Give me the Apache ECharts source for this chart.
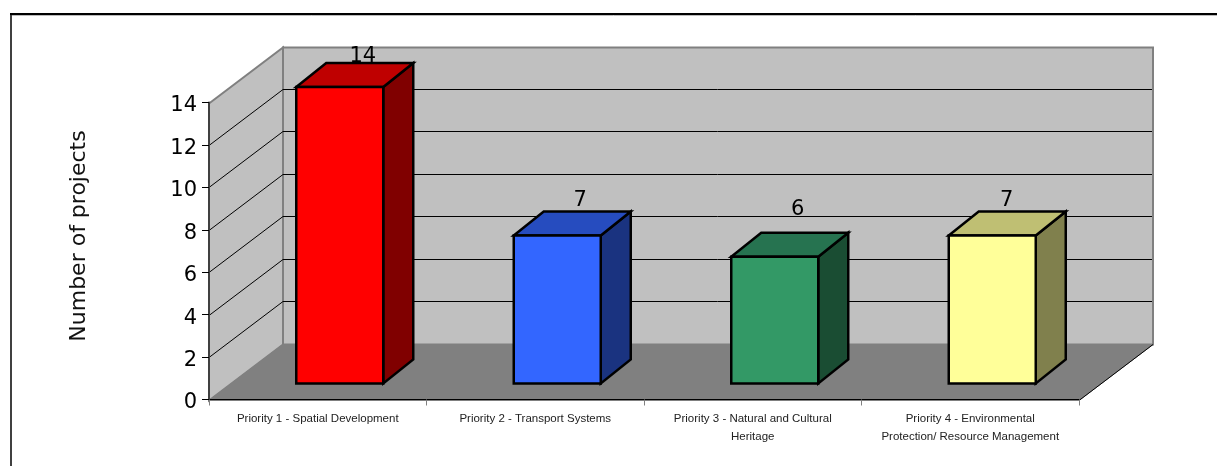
<!DOCTYPE html>
<html>
<head>
<meta charset="utf-8">
<style>html,body{margin:0;padding:0;background:#fff}#chart{width:1217px;height:466px}</style>
<script src="https://cdn.jsdelivr.net/npm/echarts@6/dist/echarts.min.js"></script>
</head>
<body>
<div id="chart"></div>
<script>
// Projects per priority, drawn as an oblique 3D column chart.
const categories = [
  'Priority 1 - Spatial Development',
  'Priority 2 - Transport Systems',
  'Priority 3 - Natural and Cultural\nHeritage',
  'Priority 4 - Environmental\nProtection/ Resource Management'
];
const projectCounts = [14, 7, 6, 7];
const frontColors = ['#FF0000', '#3366FF', '#339966', '#FFFF99'];
const topColors = ['#BF0000', '#264CBF', '#267350', '#BFBF73'];
const sideColors = ['#800000', '#1A3380', '#1A4D33', '#80804D'];
const yTicks = [0, 2, 4, 6, 8, 10, 12, 14];

// Oblique projection: how far the back of the room and a column sit from the front plane.
const ROOM_DX = 74, ROOM_DY = -56;
const BAR_DX = 30, BAR_DY = -24;
const BAR_INSET_X = 22, BAR_INSET_Y = -16;
const BAR_WIDTH = 87;
// Value labels float above each column's top face by these amounts.
const labelShiftX = [23, 23, 23, 14.5];
const labelGapY = [-1, 3, 16, 3];

const poly = (points, fill, stroke, lineWidth) => ({
  type: 'polygon',
  shape: { points },
  style: { fill, stroke, lineWidth, lineJoin: 'miter' }
});
const seg = (a, b, stroke) => ({
  type: 'line',
  shape: { x1: a[0], y1: a[1], x2: b[0], y2: b[1] },
  style: { stroke, lineWidth: 1 }
});

function renderRoom(params, api) {
  const g = params.coordSys;
  const left = g.x, right = g.x + g.width;
  const yOf = v => Math.round(api.coord([0, v])[1]) + 0.5;
  const y0 = yOf(0), yTop = yOf(yTicks[yTicks.length - 1]);
  const children = [
    poly([[left + ROOM_DX, yTop + ROOM_DY], [right + ROOM_DX, yTop + ROOM_DY],
          [right + ROOM_DX, y0 + ROOM_DY], [left + ROOM_DX, y0 + ROOM_DY]], '#C0C0C0', '#808080', 2),
    poly([[left, yTop], [left + ROOM_DX, yTop + ROOM_DY],
          [left + ROOM_DX, y0 + ROOM_DY], [left, y0]], '#C0C0C0', '#808080', 2)
  ];
  yTicks.slice(1, -1).forEach(v => {
    const y = yOf(v);
    children.push(seg([left, y], [left + ROOM_DX, y + ROOM_DY], '#000'));
    children.push(seg([left + ROOM_DX, y + ROOM_DY], [right + ROOM_DX - 1, y + ROOM_DY], '#000'));
  });
  children.push(poly([[left, y0], [right, y0], [right + ROOM_DX, y0 + ROOM_DY], [left + ROOM_DX, y0 + ROOM_DY]],
    '#808080', '#808080', 1));
  children.push(seg([right, y0], [right + ROOM_DX, y0 + ROOM_DY], '#000'));
  return { type: 'group', children };
}

function renderColumn(params, api) {
  const i = api.value(0), value = api.value(1);
  const cx = api.coord([i, 0])[0] + BAR_INSET_X;
  const y0 = api.coord([i, 0])[1] + BAR_INSET_Y;
  const yv = api.coord([i, value])[1] + BAR_INSET_Y + 0.5;
  const l = cx - BAR_WIDTH / 2, r = cx + BAR_WIDTH / 2;
  return {
    type: 'group',
    children: [
      poly([[r, yv], [r + BAR_DX, yv + BAR_DY], [r + BAR_DX, y0 + BAR_DY], [r, y0]], sideColors[i], '#000', 2.5),
      poly([[l, yv], [l + BAR_DX, yv + BAR_DY], [r + BAR_DX, yv + BAR_DY], [r, yv]], topColors[i], '#000', 2.5),
      poly([[l, yv], [r, yv], [r, y0], [l, y0]], frontColors[i], '#000', 2.5),
      {
        type: 'text',
        style: {
          text: String(value),
          x: cx + labelShiftX[i],
          y: yv + BAR_DY - labelGapY[i] + 3,
          align: 'center',
          verticalAlign: 'bottom',
          fill: '#000',
          font: '21px "DejaVu Sans"'
        }
      }
    ]
  };
}

const chart = echarts.init(document.getElementById('chart'), null, { renderer: 'canvas' });
chart.setOption({
  animation: false,
  backgroundColor: '#fff',
  graphic: [
    {
      type: 'line',
      shape: { x1: 10, y1: 15.5, x2: 1217, y2: 15.5 },
      style: { stroke: '#BBBBBB', lineWidth: 1 },
      silent: true
    },
    {
      type: 'line',
      shape: { x1: 11, y1: 15, x2: 11, y2: 466 },
      style: { stroke: '#404040', lineWidth: 2 },
      silent: true
    },
    {
      type: 'line',
      shape: { x1: 10, y1: 14, x2: 1217, y2: 14 },
      style: { stroke: '#000', lineWidth: 2 },
      silent: true
    }
  ],
  grid: { left: 209, right: 138, top: 102.5, bottom: 66.5, containLabel: false },
  xAxis: {
    type: 'category',
    data: categories,
    z: 6,
    axisLine: { show: true, lineStyle: { color: '#000', width: 1 } },
    axisTick: { show: true, alignWithLabel: false, length: 6, lineStyle: { color: '#808080' } },
    axisLabel: {
      interval: 0,
      margin: 10,
      fontFamily: '"Liberation Sans"',
      fontSize: 11.5,
      lineHeight: 18,
      color: '#222'
    }
  },
  yAxis: {
    type: 'value',
    min: 0,
    max: 14,
    interval: 2,
    z: 6,
    name: 'Number of projects',
    nameLocation: 'middle',
    nameRotate: 90,
    nameGap: 119,
    nameTextStyle: { fontFamily: '"DejaVu Sans"', fontSize: 22, color: '#111', padding: [0, 0, 0, 30] },
    axisLine: { show: true, lineStyle: { color: '#404040', width: 2 } },
    axisTick: { show: true, length: 7, lineStyle: { color: '#000' } },
    axisLabel: { margin: 12, fontFamily: '"DejaVu Sans"', fontSize: 21, color: '#000', verticalAlign: 'top', lineHeight: 7 },
    splitLine: { show: false }
  },
  series: [
    {
      type: 'custom',
      name: 'room',
      coordinateSystem: 'cartesian2d',
      renderItem: renderRoom,
      data: [[0, 0]],
      silent: true,
      clip: false,
      z: 1
    },
    {
      type: 'custom',
      name: 'Number of projects',
      coordinateSystem: 'cartesian2d',
      renderItem: renderColumn,
      data: projectCounts.map((v, i) => [i, v]),
      clip: false,
      z: 3
    }
  ]
});
</script>
</body>
</html>
